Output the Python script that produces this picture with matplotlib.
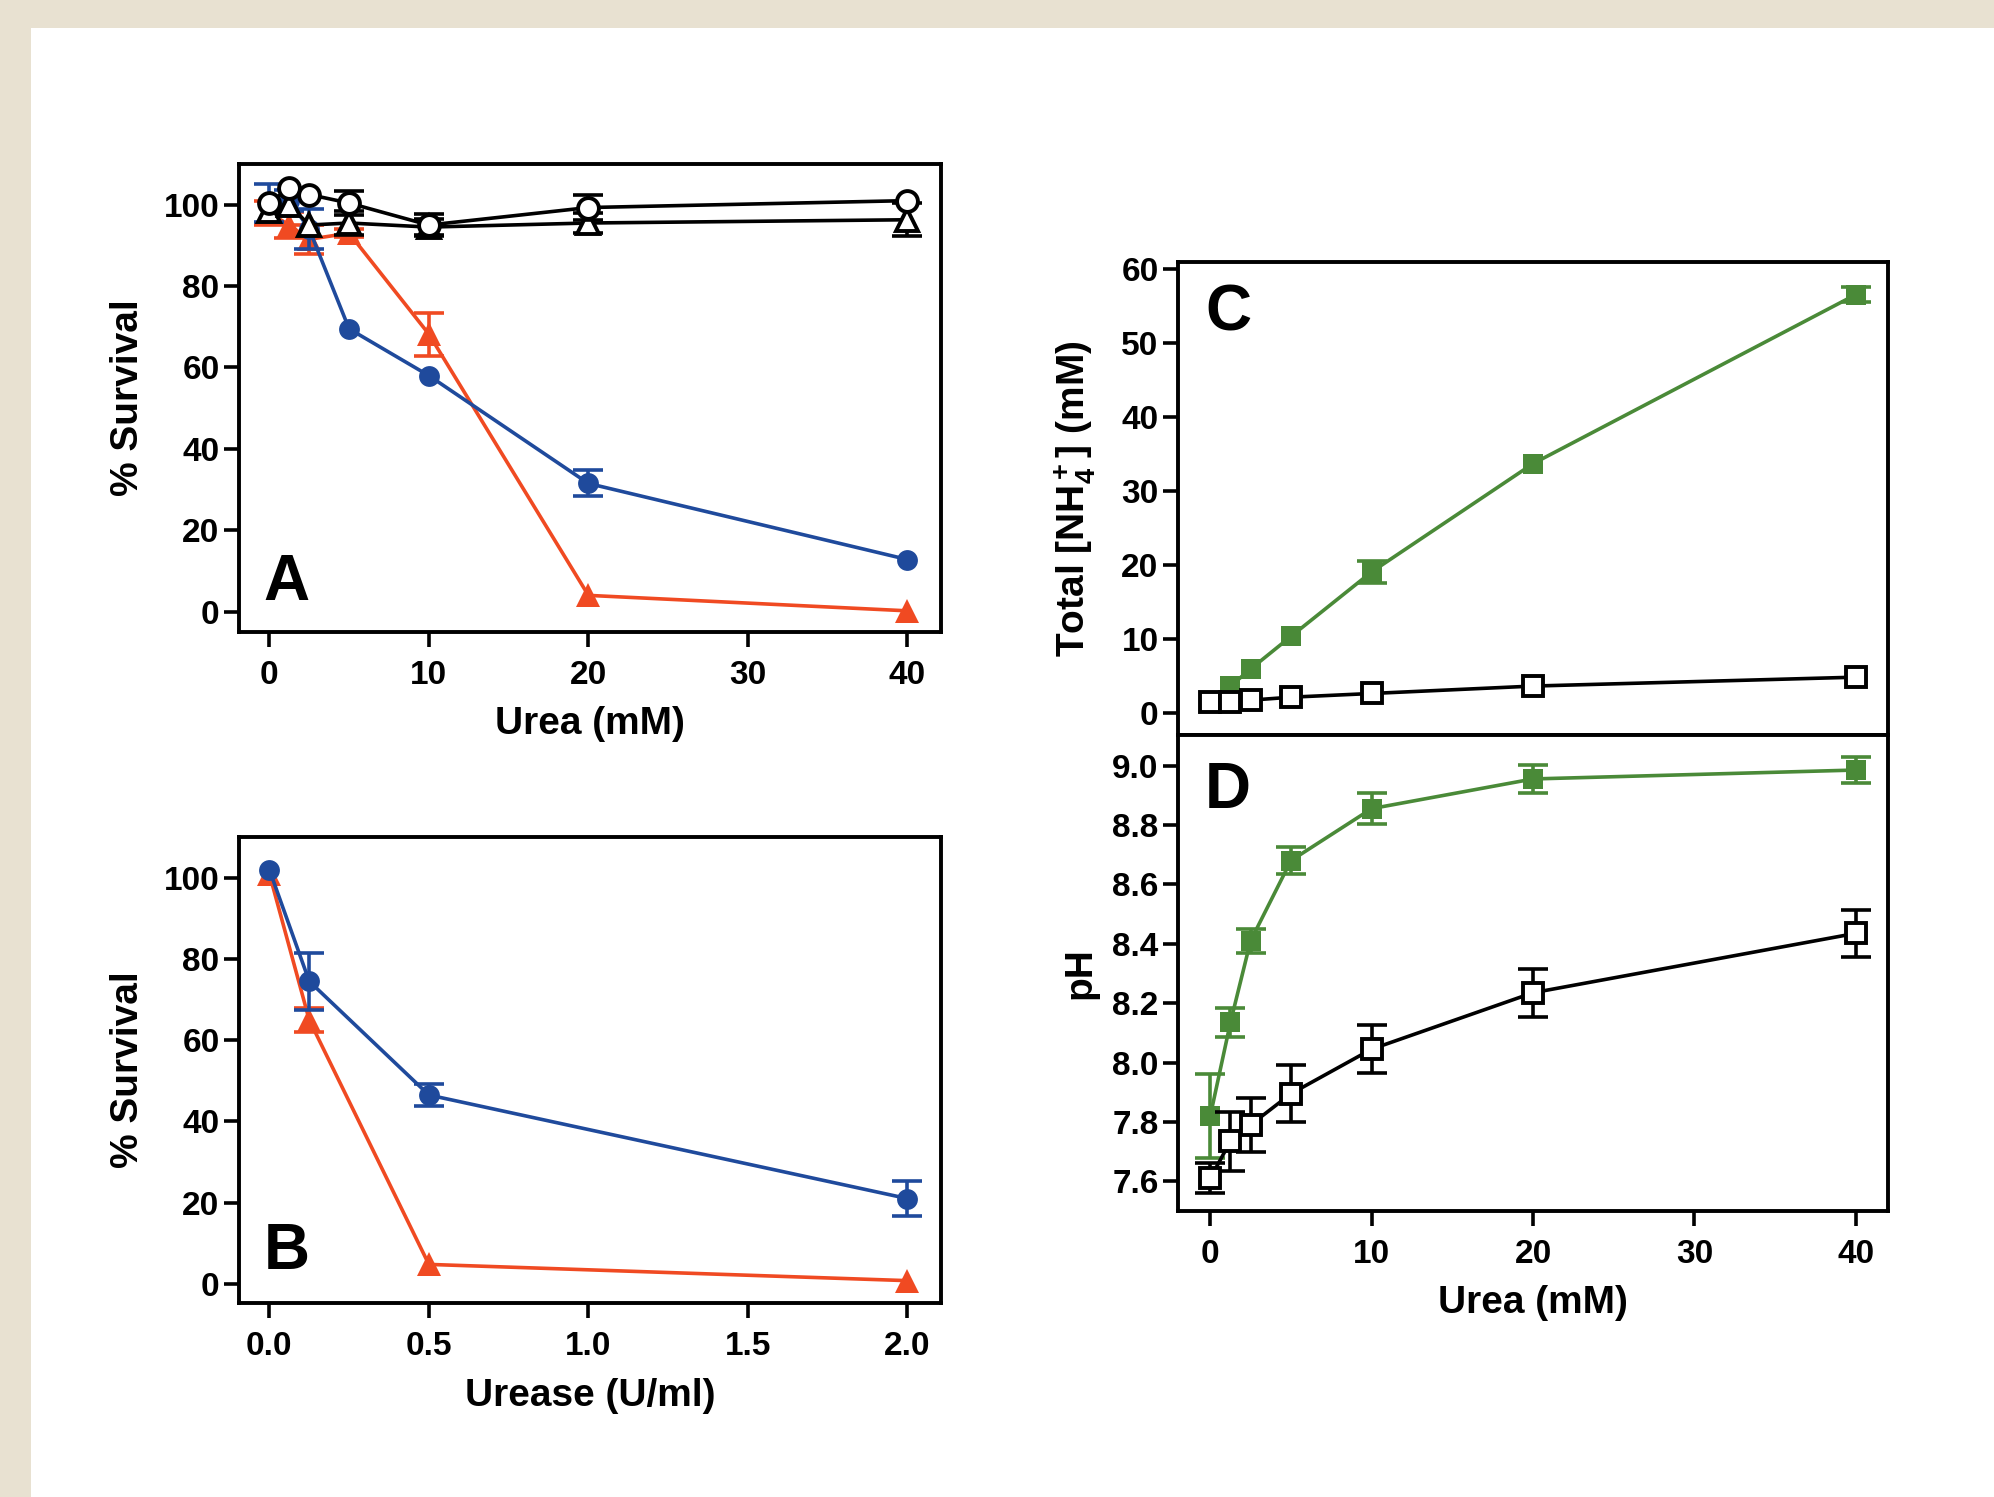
import matplotlib
matplotlib.use('Agg')
import matplotlib.pyplot as plt
from matplotlib import font_manager
from matplotlib.patches import Rectangle

# fonts: bold Arial-like, narrow variant for x axis if present
plt.rcParams['font.family'] = ['Liberation Sans', 'DejaVu Sans']
plt.rcParams['font.weight'] = 'bold'
plt.rcParams['mathtext.fontset'] = 'custom'
plt.rcParams['mathtext.rm'] = 'Liberation Sans:bold'
plt.rcParams['mathtext.it'] = 'Liberation Sans:bold'
plt.rcParams['mathtext.bf'] = 'Liberation Sans:bold'
try:
    font_manager.findfont('Liberation Sans Narrow', fallback_to_default=False)
    narrow = 'Liberation Sans Narrow'
except Exception:
    narrow = 'Liberation Sans'

BLUE = '#1f4a9c'
RED = '#f04a22'
GREEN = '#4a8a38'
BLACK = 'black'
BEIGE = '#e8e1d1'

# ---- Panel A: survival vs urea ----
urea = [0, 1.25, 2.5, 5, 10, 20, 40]
a_blue = [100.5, 101, 94, 69.5, 58, 31.5, 12.8]
a_blue_err = [4.7, 2.5, 5, 0, 0, 3.2, 0]
a_red = [98, 95, 91.5, 93, 68.2, 4, 0.2]
a_red_err = [3, 3.3, 3.5, 1, 5.3, 0, 0]
a_circ = [100.5, 104, 102.5, 100.4, 95, 99.3, 101]
a_circ_err = [0, 0, 0, 3, 2.8, 3, 0]
a_tri = [98.5, 100, 95, 95.5, 94.5, 95.5, 96.3]
a_tri_err = [0, 0, 0, 3, 2, 2.5, 4]

# ---- Panel B: survival vs urease ----
urease = [0, 0.125, 0.5, 2.0]
b_blue = [102, 74.5, 46.5, 21]
b_blue_err = [0, 7, 2.8, 4.3]
b_red = [101, 65, 4.8, 0.8]
b_red_err = [0, 3, 0, 0]

# ---- Panel C: total NH4+ ----
c_green = [1.6, 3.7, 6.0, 10.4, 19.1, 33.7, 56.5]
c_green_err = [0, 0, 0, 0, 1.5, 0, 1.0]
c_open = [1.5, 1.6, 1.8, 2.2, 2.7, 3.7, 4.9]
c_open_err = [0, 0, 0, 0, 0, 0, 0]

# ---- Panel D: pH ----
d_green = [7.82, 8.135, 8.41, 8.68, 8.855, 8.955, 8.985]
d_green_err = [0.14, 0.05, 0.04, 0.045, 0.053, 0.047, 0.044]
d_open = [7.61, 7.735, 7.79, 7.895, 8.045, 8.235, 8.435]
d_open_err = [0.05, 0.1, 0.09, 0.095, 0.08, 0.08, 0.08]

W, H = 1994, 1497
fig = plt.figure(figsize=(W / 100, H / 100), dpi=100, facecolor=BEIGE)
fig.patches.append(Rectangle((31 / W, 0), 1 - 31 / W, 1 - 28 / H,
                             transform=fig.transFigure, facecolor='white',
                             edgecolor='none', zorder=-10))


def box(px_left, px_top, px_right, px_bottom):
    return [px_left / W, 1 - px_bottom / H, (px_right - px_left) / W,
            (px_bottom - px_top) / H]


axA = fig.add_axes(box(239, 164, 941, 632))
axB = fig.add_axes(box(239, 837, 941, 1303))
axC = fig.add_axes(box(1178, 262, 1888, 735))
axD = fig.add_axes(box(1178, 735, 1888, 1211))

LW = 2.6


def series(ax, x, y, err, color, marker, ms, open_=False, z=3):
    # line + markers, then error bars only where an error was drawn
    kw = dict(mfc='white', mew=2.8) if open_ else dict(mew=0)
    ex = [xi for xi, e in zip(x, err) if e > 0]
    ey = [yi for yi, e in zip(y, err) if e > 0]
    ee = [e for e in err if e > 0]
    if ee:
        ax.errorbar(ex, ey, yerr=ee, fmt='none', ecolor=color, capsize=11,
                    capthick=2.6, elinewidth=2.6, zorder=z)
    ax.plot(x, y, color=color, marker=marker, ms=ms, lw=LW, zorder=z + 0.5,
            **kw)


def style(ax):
    for s in ax.spines.values():
        s.set_linewidth(2.8)
    ax.tick_params(direction='out', length=11, width=2.6, labelsize=24, pad=3)
    ax.tick_params(axis='x', pad=9)
    for t in ax.get_xticklabels():
        t.set_family(narrow)
        t.set_fontweight('bold')


def letter(ax, s, x, y, va):
    ax.text(x, y, s, transform=ax.transAxes, fontsize=46, fontweight='bold',
            ha='left', va=va, family=narrow, zorder=10)


# Panel A
series(axA, urea, a_red, a_red_err, RED, '^', 17, z=3)
series(axA, urea, a_blue, a_blue_err, BLUE, 'o', 15, z=4)
series(axA, urea, a_tri, a_tri_err, BLACK, '^', 16, open_=True, z=5)
series(axA, urea, a_circ, a_circ_err, BLACK, 'o', 15, open_=True, z=6)
axA.set_xlim(-1.9, 42.1)
axA.set_ylim(-5, 110)
axA.set_xticks([0, 10, 20, 30, 40])
axA.set_yticks([0, 20, 40, 60, 80, 100])
style(axA)
axA.set_xlabel('Urea (mM)', fontsize=28, fontweight='bold', family=narrow)
axA.set_ylabel('% Survival', fontsize=28, fontweight='bold')
axA.xaxis.set_label_coords(0.5, -0.158)
axA.yaxis.set_label_coords(-0.132, 0.5)
letter(axA, 'A', 0.035, 0.04, 'bottom')

# Panel B
series(axB, urease, b_red, b_red_err, RED, '^', 17, z=3)
series(axB, urease, b_blue, b_blue_err, BLUE, 'o', 15, z=4)
axB.set_xlim(-0.095, 2.105)
axB.set_ylim(-4.7, 110)
axB.set_xticks([0, 0.5, 1.0, 1.5, 2.0])
axB.set_xticklabels(['0.0', '0.5', '1.0', '1.5', '2.0'])
axB.set_yticks([0, 20, 40, 60, 80, 100])
style(axB)
axB.set_xlabel('Urease (U/ml)', fontsize=28, fontweight='bold', family=narrow)
axB.set_ylabel('% Survival', fontsize=28, fontweight='bold')
axB.xaxis.set_label_coords(0.5, -0.161)
axB.yaxis.set_label_coords(-0.132, 0.5)
letter(axB, 'B', 0.035, 0.045, 'bottom')

# Panel C
series(axC, urea, c_green, c_green_err, GREEN, 's', 15, z=3)
series(axC, urea, c_open, c_open_err, BLACK, 's', 15, open_=True, z=4)
axC.set_xlim(-2, 42)
axC.set_ylim(-2.9, 60.9)
axC.set_yticks([0, 10, 20, 30, 40, 50, 60])
axC.set_xticks([])
style(axC)
axC.set_ylabel(r'Total [$\mathregular{NH_4^+}$] (mM)', fontsize=28, fontweight='bold')
axC.yaxis.set_label_coords(-0.112, 0.5)
letter(axC, 'C', 0.038, 0.955, 'top')

# Panel D
series(axD, urea, d_green, d_green_err, GREEN, 's', 15, z=3)
series(axD, urea, d_open, d_open_err, BLACK, 's', 15, open_=True, z=4)
axD.set_xlim(-2, 42)
axD.set_ylim(7.5, 9.103)
axD.set_xticks([0, 10, 20, 30, 40])
axD.set_yticks([7.6, 7.8, 8.0, 8.2, 8.4, 8.6, 8.8, 9.0])
axD.set_yticklabels(['7.6', '7.8', '8.0', '8.2', '8.4', '8.6', '8.8', '9.0'])
style(axD)
axD.set_xlabel('Urea (mM)', fontsize=28, fontweight='bold', family=narrow)
axD.set_ylabel('pH', fontsize=28, fontweight='bold')
axD.xaxis.set_label_coords(0.5, -0.155)
axD.yaxis.set_label_coords(-0.112, 0.5)
letter(axD, 'D', 0.038, 0.945, 'top')

fig.savefig('out.png', dpi=100, facecolor=BEIGE)
